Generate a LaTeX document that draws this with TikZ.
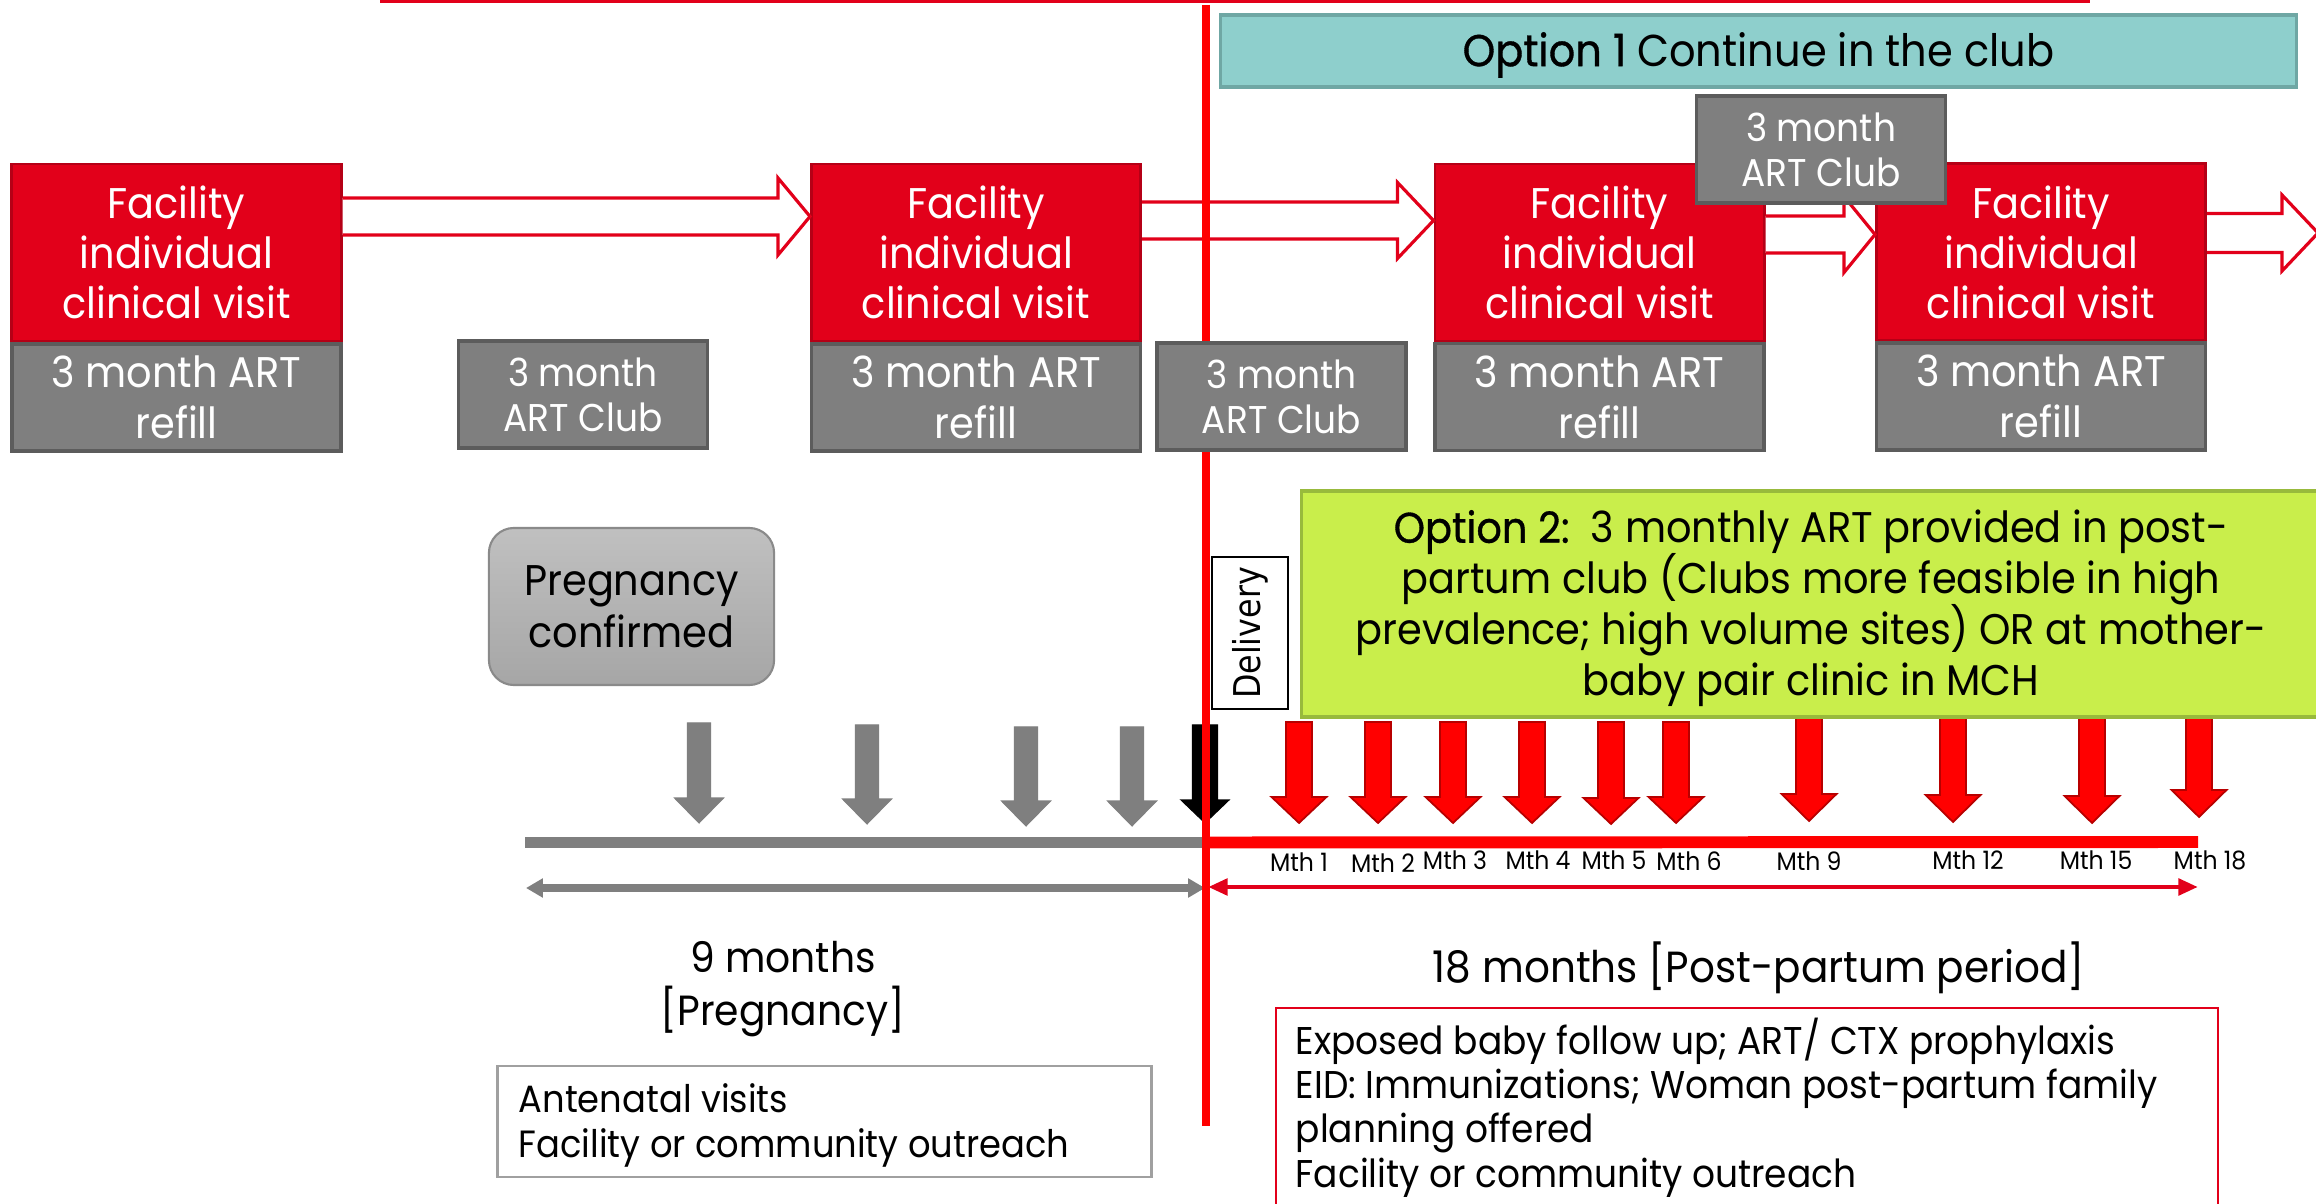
\documentclass[tikz,border=0pt]{standalone}
\usepackage{fontspec}
\setmainfont{Poppins}[FakeStretch=0.93]
\newfontfamily\optfont{Poppins}[FakeStretch=0.93,FakeBold=0.8]
\newfontfamily\delfont{DejaVu Sans}
\usetikzlibrary{calc,arrows.meta}

\definecolor{visitred}{HTML}{E2001A}
\definecolor{visitedge}{HTML}{B50016}
\definecolor{artgrey}{HTML}{7F7F7F}
\definecolor{artedge}{HTML}{5C5C5C}
\definecolor{clubteal}{HTML}{8ECFCC}
\definecolor{clubtealedge}{HTML}{6FA7A4}
\definecolor{optlime}{HTML}{C9EE4B}
\definecolor{optlimeedge}{HTML}{98BA3C}
\definecolor{brightred}{HTML}{FF0000}
\definecolor{markedge}{HTML}{B80000}
\definecolor{pregtop}{HTML}{C0C0C0}
\definecolor{pregbot}{HTML}{A6A6A6}
\definecolor{pregedge}{HTML}{8A8A8A}
\definecolor{ancedge}{HTML}{A0A0A0}

% keep baselines evenly spaced even with tall glyphs
\newcommand\tightlines{\lineskiplimit=-100pt\relax\lineskip=0pt\relax}

\tikzset{
  visit/.style={rectangle, fill=visitred, draw=visitedge, line width=0.8pt,
    text=white, align=center, inner sep=0pt,
    minimum width=3.29cm, minimum height=1.77cm,
    font=\fontsize{12.2}{14.2}\selectfont},
  refill/.style={rectangle, fill=artgrey, draw=artedge, line width=1pt,
    text=white, align=center, inner sep=0pt,
    minimum width=3.29cm, minimum height=1.07cm,
    font=\fontsize{12.2}{14.5}\selectfont},
  club/.style={refill, minimum width=2.49cm,
    font=\fontsize{11}{12.8}\selectfont},
  hollow/.style={draw=visitred, fill=white, line width=0.9pt, line join=miter},
  redmarker/.style={fill=brightred, draw=markedge, line width=0.5pt},
  greymarker/.style={fill=artgrey, draw=artgrey, line width=0.3pt},
  blackmarker/.style={fill=black, draw=black, line width=0.3pt},
  mth/.style={font=\fontsize{7.2}{8}\selectfont, inner sep=0pt},
  divider/.style={draw=brightred, line width=2.3pt},
  caption/.style={inner sep=0pt},
}

% hollow block arrow: tail, tip, half shaft, half head, head length
\newcommand\hollowarrow[5]{%
  \draw[hollow] ($(#1)+(0,-#3)$) -- ($(#2)+(-#5,-#3)$) -- ($(#2)+(-#5,-#4)$)
    -- (#2) -- ($(#2)+(-#5,#4)$) -- ($(#2)+(-#5,#3)$) -- ($(#1)+(0,#3)$);}

% downward marker arrow: style, x, top, tip, half shaft, half head, head length
\newcommand\markarrow[7]{%
  \filldraw[#1] (#2-#5,#3) -- (#2+#5,#3) -- (#2+#5,#4-#7) -- (#2+#6,#4-#7)
    -- (#2,#4) -- (#2-#6,#4-#7) -- (#2-#5,#4-#7) -- cycle;}

\begin{document}
\begin{tikzpicture}[x=0.01cm,y=-0.01cm]
\useasboundingbox (0,0) rectangle (2316,1204);
\fill[white] (0,0) rectangle (2316,1204);

% rule along the top edge
\fill[visitred] (380,0) rectangle (2090,3.5);

% clinical visits and refills
\node[visit] (f1) at (176.5,252.5) {Facility\\individual\\clinical visit};
\node[visit] (f2) at (976,252.5) {Facility\\individual\\clinical visit};
\node[visit] (f3) at (1599.5,252.5) {Facility\\individual\\clinical visit};
\node[visit] (f4) at (2041,252) {Facility\\individual\\clinical visit};
\node[refill] (g1) at (176.5,397.5) {3 month ART\\refill};
\node[refill] (g2) at (976,397.5) {3 month ART\\refill};
\node[refill] (g3) at (1599.5,397) {3 month ART\\refill};
\node[refill] (g4) at (2041,396.5) {3 month ART\\refill};
\node[club] (cA) at (583,394.5) {3 month\\ART Club};

% hollow arrows between the visits
\coordinate (t1) at (f1.east |- 0,216.5);
\coordinate (h1) at (f2.west |- 0,216.5);
\coordinate (t2) at (f2.east |- 0,220.5);
\coordinate (h2) at (f3.west |- 0,220.5);
\coordinate (t3) at (f3.east |- 0,234.5);
\coordinate (h3) at (f4.west |- 0,234.5);
\coordinate (t4) at (f4.east |- 0,233);
\coordinate (h4) at (2318,233);
\hollowarrow{t1}{h1}{18.5}{38.5}{32}
\hollowarrow{t2}{h2}{18.5}{38}{36}
\hollowarrow{t3}{h3}{18.5}{38}{31}
\hollowarrow{t4}{h4}{19.5}{38}{36}

% option 1
\node[rectangle, fill=clubteal, draw=clubtealedge, line width=1pt,
  minimum width=10.75cm, minimum height=0.72cm, inner sep=0pt] (opt1) at (1758.5,51) {};
\node[caption, font=\fontsize{12.7}{14}\selectfont] (opt1text) at (1758.5,55)
  {{\optfont Option 1} Continue in the club};

% pregnancy confirmed
\node[rectangle, rounded corners=0.25cm, top color=pregtop, bottom color=pregbot,
  draw=pregedge, line width=0.6pt, minimum width=2.85cm, minimum height=1.57cm,
  inner sep=0pt, align=center, font=\fontsize{12.2}{14.8}\selectfont]
  (preg) at (631.5,606.5) {Pregnancy\\confirmed};

% antenatal markers
\markarrow{greymarker}{699}{723}{823}{11.5}{24.5}{25}
\markarrow{greymarker}{867}{725}{824}{11.5}{24.5}{25}
\markarrow{greymarker}{1026}{727}{826}{11.5}{24.5}{25}
\markarrow{greymarker}{1132}{727}{826}{11.5}{24.5}{25}
\markarrow{blackmarker}{1205}{725}{823}{12.5}{24}{23}

% post-partum markers
\markarrow{redmarker}{1299}{722}{823}{13}{27.5}{26}
\markarrow{redmarker}{1378}{722}{823}{13}{27.5}{26}
\markarrow{redmarker}{1453}{722}{823}{13}{27.5}{26}
\markarrow{redmarker}{1532}{722}{823}{13}{27.5}{26}
\markarrow{redmarker}{1611}{722}{824}{13}{27.5}{26}
\markarrow{redmarker}{1676}{722}{823}{13}{27.5}{26}
\markarrow{redmarker}{1809}{716}{821}{13}{27.5}{27}
\markarrow{redmarker}{1953}{716}{822}{13}{27.5}{27}
\markarrow{redmarker}{2092}{716}{823}{13}{27.5}{27}
\markarrow{redmarker}{2199}{716}{817}{13}{27.5}{27}

% option 2
\node[rectangle, fill=optlime, draw=optlimeedge, line width=1pt,
  minimum width=10.18cm, minimum height=2.26cm, inner sep=0pt] (opt2) at (1811,604) {};
\node[caption, align=center, font=\fontsize{12.2}{14.5}\selectfont\tightlines]
  (opt2text) at (1811,608.5)
  {{\optfont Option 2:}\ \ 3 monthly ART provided in post-\\
   partum club (Clubs more feasible in high\\
   prevalence; high volume sites) OR at mother-\\
   baby pair clinic in MCH};

% delivery
\node[rectangle, draw=black, line width=0.6pt, fill=white, rotate=90,
  minimum width=1.52cm, minimum height=0.76cm, inner sep=0pt,
  font=\delfont\fontsize{10.5}{12}\selectfont] (deliv) at (1250,633)
  {\scalebox{0.86}[1]{Delivery}};

% timeline bars
\coordinate (tl0) at (525,842.5);
\coordinate (tl1) at (1206,842.5);
\coordinate (tl2) at (2198,842);
\draw[artgrey, line width=3.1pt] (tl0) -- (tl1);
\draw[brightred, line width=3.4pt] (tl1) -- (tl2);

% month labels
\node[mth] (m1) at (1299,862) {Mth 1};
\node[mth] (m2) at (1383,863) {Mth 2};
\node[mth] (m3) at (1455,860) {Mth 3};
\node[mth] (m4) at (1538,860) {Mth 4};
\node[mth] (m5) at (1614,860) {Mth 5};
\node[mth] (m6) at (1689,861) {Mth 6};
\node[mth] (m9) at (1809,861) {Mth 9};
\node[mth] (m12) at (1968,860) {Mth 12};
\node[mth] (m15) at (2096,860) {Mth 15};
\node[mth] (m18) at (2210,860) {Mth 18};

% period spans
\coordinate (ps) at (526,888);
\coordinate (pe) at (1205,888);
\coordinate (qs) at (1208,887);
\coordinate (qe) at (2198,887);
\draw[artgrey, line width=2pt,
  {Triangle[length=4.8pt,width=5.2pt]}-{Triangle[length=4.8pt,width=5.2pt]}] (ps) -- (pe);
\draw[visitred, line width=1.4pt,
  {Triangle[length=5.6pt,width=4.6pt]}-{Triangle[length=5.6pt,width=4.6pt]}] (qs) -- (qe);

% delivery divider
\coordinate (divtop) at (1206,5);
\coordinate (divbot) at (1206,1126);
\draw[divider] (divtop) -- (divbot);

% clubs drawn over the divider and arrows
\node[club] (cB) at (1281.5,396.5) {3 month\\ART Club};
\node[club] (cC) at (1821,149.5) {3 month\\ART Club};

% period captions
\node[caption, align=center, font=\fontsize{12}{15.1}\selectfont]
  (nine) at (783,989.5) {9 months\\{[Pregnancy]}};
\node[caption, font=\fontsize{12.4}{14}\selectfont]
  (eighteen) at (1759,968) {18 months [Post-partum period]};

% antenatal box
\node[rectangle, draw=ancedge, line width=0.8pt, inner sep=0pt,
  minimum width=6.53cm, minimum height=1.11cm] (anc) at (824.5,1121.5) {};
\node[caption, anchor=west, align=left, font=\fontsize{10.8}{12.8}\selectfont]
  (anctext) at (518,1125.5) {Antenatal visits\\Facility or community outreach};

% post-partum care box
\node[rectangle, draw=visitred, line width=0.7pt, anchor=north west,
  minimum width=9.41cm, minimum height=2.4cm, inner sep=0pt] (ppframe) at (1275,1007) {};
\node[caption, anchor=north west, align=left,
  font=\fontsize{11}{12.6}\selectfont\tightlines] (pptext) at (1295,1017)
  {Exposed baby follow up; ART/ CTX prophylaxis\\
   EID: Immunizations; Woman post-partum family\\
   planning offered\\
   Facility or community outreach};
\end{tikzpicture}
\end{document}
